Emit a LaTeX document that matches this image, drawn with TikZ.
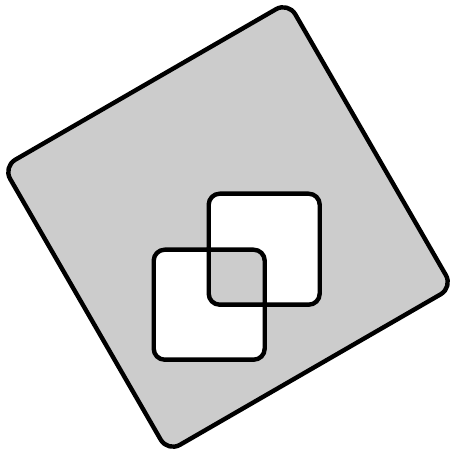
\documentclass[tikz,border=0pt]{standalone}
\tikzset{
  shapeline/.style={line width=4.4pt, draw=black, fill=black!20, even odd rule, line join=round},
}
\begin{document}
\begin{tikzpicture}
\useasboundingbox (0pt,0pt) rectangle (458pt,458pt);
\path[shapeline]
  [rounded corners=14pt]
  ([shift={(228pt,231pt)}]75:232.8pt) --
  ([shift={(228pt,231pt)}]165:232.8pt) --
  ([shift={(228pt,231pt)}]255:232.8pt) --
  ([shift={(228pt,231pt)}]345:232.8pt) -- cycle
  [rounded corners=11pt]
  (153.7pt,98.3pt) rectangle (264.7pt,208.3pt)
  (208.7pt,153.3pt) rectangle (319.7pt,264.3pt);
\end{tikzpicture}
\end{document}
